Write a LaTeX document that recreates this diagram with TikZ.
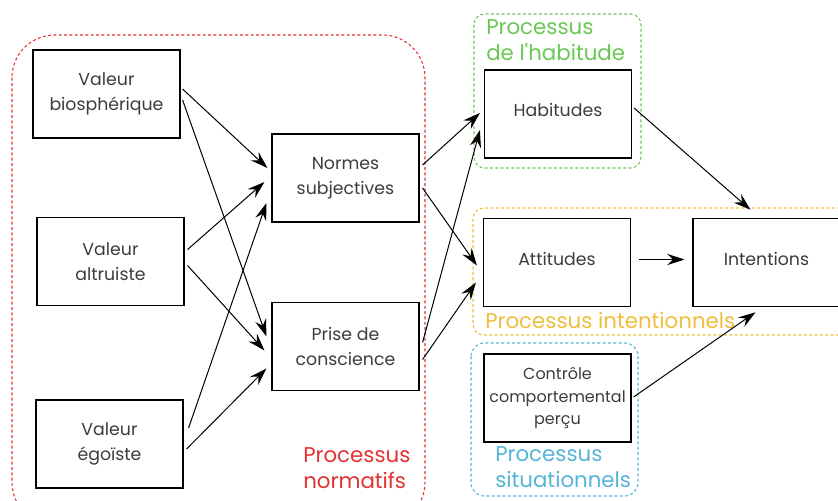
\documentclass[tikz,border=0pt]{standalone}
\usepackage{fontspec}
\setmainfont{Poppins}[Ligatures=TeXOff]
\usetikzlibrary{arrows.meta,positioning,calc}
\definecolor{normred}{RGB}{228,50,50}
\definecolor{habgreen}{RGB}{105,200,85}
\definecolor{intorange}{RGB}{238,190,60}
\definecolor{sitblue}{RGB}{85,180,215}
\definecolor{boxgray}{RGB}{60,60,60}
\def\normatifs{(12,35) rectangle (425,525)}
\def\habitude{(474,14) rectangle (641,168)}
\def\intentionnels{(473,208) rectangle (870,335)}
\def\situationnels{(471,343) rectangle (638,496)}
\tikzset{
  box/.style={draw, line width=1.1pt, minimum width=110pt, minimum height=66pt,
    align=center, text=boxgray, inner sep=1pt, font=\fontsize{13}{18.5}\selectfont},
  oneline/.style={text depth=6pt},
  flow/.style={-{Stealth[length=13pt,width=8.5pt,inset=4.5pt]}, line width=0.75pt},
  group/.style={dash pattern=on 2.2pt off 1.8pt, line width=0.8pt},
  grouplabel/.style={anchor=north west, inner sep=0pt, align=left,
    font=\fontsize{16}{20}\selectfont}
}

\begin{document}
\begin{tikzpicture}[x=0.75pt,y=-0.75pt]
      \useasboundingbox (0,0) rectangle (838,500);

      % Groups
      \draw[group, normred, rounded corners=32pt] \normatifs;
      \draw[group, habgreen, rounded corners=8pt] \habitude;
      \draw[group, intorange, rounded corners=8pt] \intentionnels;
      \draw[group, sitblue, rounded corners=10pt] \situationnels;

      \node[grouplabel, text=normred] (lnorm) at (303,447) {Processus\\normatifs};
      \node[grouplabel, text=habgreen] (lhab) at (486,19) {Processus\\de l'habitude};
      \node[grouplabel, text=intorange] (lint) at (485,312) {Processus intentionnels};
      \node[grouplabel, text=sitblue] (lsit) at (495,446) {Processus\\situationnels};

      % Valeurs
      \node[box] (bio) at (106.5,94) {Valeur\\biosphérique};
      \node[box] (altr) at (110.5,261.5) {Valeur\\altruiste};
      \node[box] (ego) at (109.5,444) {Valeur\\égoïste};

      % Normes
      \node[box] (normes) at (345.5,178) {Normes\\subjectives};
      \node[box] (prise) at (345.5,346.5) {Prise de\\conscience};

      % Habitudes, attitudes, controle
      \node[box, oneline] (hab) at (558,114) {Habitudes};
      \node[box, oneline] (att) at (557,262.5) {Attitudes};
      \node[box, oneline, right=46pt of att] (int) {Intentions};
      \node[box, font=\fontsize{12}{17}\selectfont] (ctrl) at (557.5,398) {Contrôle\\comportemental\\perçu};

      % Valeurs -> normes
      \draw[flow] ($(bio.east)+(2,-5)$) -- ($(normes.west)+(-4,-10)$);
      \draw[flow] ($(bio.east)+(2,6)$) -- ($(prise.west)+(-5,-10)$);
      \draw[flow] ($(altr.east)+(3,-12)$) -- ($(normes.west)+(-7,4)$);
      \draw[flow] ($(altr.east)+(3,4)$) -- ($(prise.west)+(-7,4)$);
      \draw[flow] ($(ego.east)+(5,-16)$) -- ($(normes.west)+(-5,25)$);
      \draw[flow] ($(ego.east)+(3,5)$) -- ($(prise.west)+(-5,22)$);

      % Normes -> habitudes, attitudes
      \draw[flow] ($(normes.east)+(3,-13)$) -- ($(hab.west)+(-4,-1)$);
      \draw[flow] ($(normes.east)+(3,10)$) -- ($(att.west)+(-6,3)$);
      \draw[flow] ($(prise.east)+(3,-4)$) -- ($(hab.west)+(-4,16)$);
      \draw[flow] ($(prise.east)+(3,13)$) -- ($(att.west)+(-7,20)$);

      % -> intentions
      \draw[flow] ($(hab.east)+(2,-6)$) -- ($(int.north)+(-16,-8)$);
      \draw[flow] ($(att.east)+(8,-3)$) -- ($(int.west)+(-8,-3)$);
      \draw[flow] ($(ctrl.east)+(2,-1)$) -- ($(int.south)+(-11,5)$);

    \end{tikzpicture}
\end{document}
